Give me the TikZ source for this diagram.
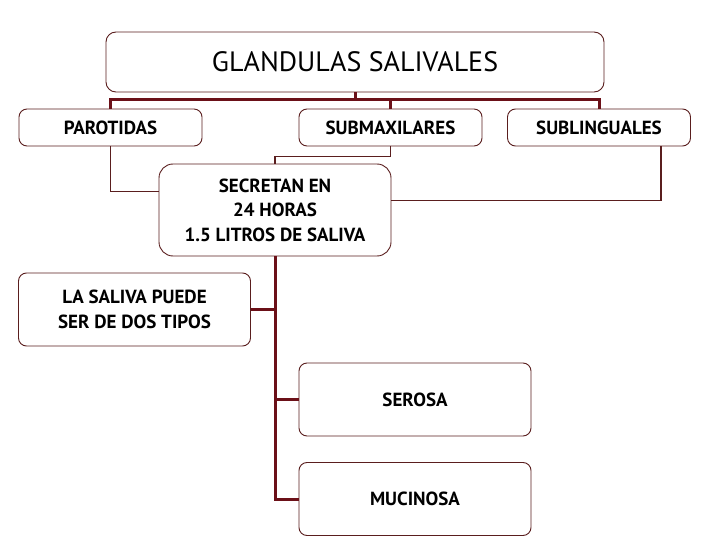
\documentclass[tikz,border=0pt]{standalone}
\usepackage{fontspec}
\setmainfont{PT Sans}
\usepackage{tikz}
\usetikzlibrary{positioning,calc}
\definecolor{GSMaroon}{HTML}{6B1018}
\definecolor{GSEdge}{HTML}{5A1E1E}

\begin{document}
\begin{tikzpicture}[
  x=1pt, y=-1pt,
  box/.style={rounded corners=8pt, draw=GSEdge, line width=0.9pt, fill=white, inner sep=0pt, align=center, font=\fontsize{19}{24.5}\selectfont\bfseries},
  headbox/.style={box, rounded corners=10pt, minimum width=498pt, minimum height=60pt, font=\fontsize{28}{30}\selectfont},
  leaf/.style={box, minimum width=183pt, minimum height=37pt},
  bigbox/.style={box, rounded corners=14pt, minimum width=232pt, minimum height=92pt},
  kind/.style={box, minimum width=232pt, minimum height=73pt},
  link/.style={draw=GSMaroon, line width=3pt},
  thin/.style={draw=GSEdge, line width=1.1pt}
]
\fill[white] (0,0) rectangle (720,540);
\useasboundingbox (0,0) rectangle (720,540);
\node[headbox] (title) at (355,62) {GLANDULAS SALIVALES};
\node[leaf] (paro) at (110.5,127.5) {PAROTIDAS};
\node[leaf] (submax) at (390.5,127.5) {SUBMAXILARES};
\node[leaf] (subling) at (599,127.5) {SUBLINGUALES};
\node[bigbox] (secretan) at (275,210) {SECRETAN EN\\24 HORAS\\1.5 LITROS DE SALIVA};
\node[kind] (saliva) at (134.5,309.5) {LA SALIVA PUEDE\\SER DE DOS TIPOS};
\node[kind] (serosa) at (415,399.5) {SEROSA};
\node[kind] (mucinosa) at (415,499) {MUCINOSA};
\coordinate (hub) at (355,100);
\draw[link] (title.south) -- (hub);
\draw[link] (hub) -| (paro.north);
\draw[link] (hub) -| (submax.north);
\draw[link] (hub) -| (subling.north);
\draw[thin] (paro.south) |- ($(secretan.north west)!0.3!(secretan.south west)$);
\draw[thin] (submax.south) -- ++(0,10) -| (secretan.north);
\draw[thin] ($(subling.south east)+(-30,0)$) |- ($(secretan.north east)!0.4!(secretan.south east)$);
\draw[link] (secretan.south) |- (mucinosa.west);
\draw[link] (secretan.south) |- (saliva.east);
\draw[link] (secretan.south) |- (serosa.west);
\end{tikzpicture}
\end{document}
